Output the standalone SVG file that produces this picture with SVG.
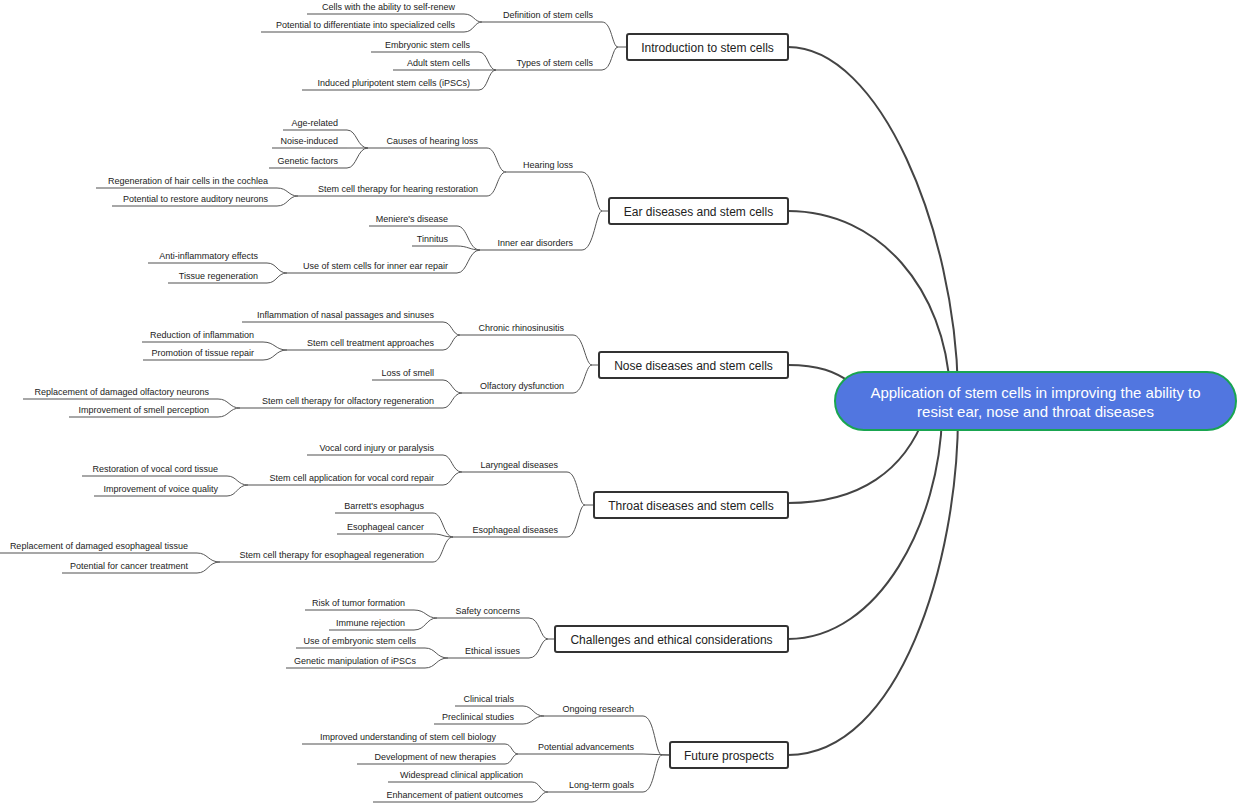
<svg xmlns="http://www.w3.org/2000/svg" width="1240" height="804" viewBox="0 0 1240 804">
<style>
text{font-family:"Liberation Sans",Arial,sans-serif;fill:#222}
.t{font-size:9px;text-anchor:end}
.u{stroke:#8a8a8a;stroke-width:1.5}
.c path{fill:none;stroke:#555;stroke-width:1}
.m path{fill:none;stroke:#444;stroke-width:2}
.b rect{fill:#fff;stroke:#333;stroke-width:2}
.b text{font-size:12px;text-anchor:middle}
</style>
<rect width="1240" height="804" fill="#fff"/>
<g class="m">
<path d="M788,47 C880,47 955,230 958,390"/>
<path d="M788,211 C880,211 945,290 950,390"/>
<path d="M788,365 C820,365 835,372 850,382"/>
<path d="M788,503 C860,503 905,470 925,415"/>
<path d="M788,639 C880,639 940,520 942,415"/>
<path d="M788,755 C900,755 958,560 958,415"/>
</g>
<g class="c">
<path d="M602,22 C612,22 612,47 618,47 L627,47"/><path d="M602,70 C612,70 612,47 618,47"/>
<path d="M464,14 C474,14 474,22 482,22"/><path d="M464,32 C474,32 474,22 482,22"/>
<path d="M479,52 C488,52 488,70 496,70"/><path d="M479,70 L496,70"/><path d="M479,90 C488,90 488,70 496,70"/>
<path d="M582,172 C594,172 596,211 602,211 L609,211"/><path d="M582,250 C594,250 596,211 602,211"/>
<path d="M487,148 C497,148 497,172 506,172"/><path d="M487,196 C497,196 497,172 506,172"/>
<path d="M347,130 C357,130 357,148 368,148"/><path d="M347,148 L368,148"/><path d="M347,168 C357,168 357,148 368,148"/>
<path d="M277,188 C288,188 288,196 298,196"/><path d="M277,206 C288,206 288,196 298,196"/>
<path d="M457,226 C468,226 468,250 480,250"/><path d="M457,246 C468,246 470,250 480,250"/><path d="M457,273 C468,273 468,250 480,250"/>
<path d="M267,263 C277,263 277,273 287,273"/><path d="M267,283 C277,283 277,273 287,273"/>
<path d="M573,335 C584,335 585,365 592,365 L599,365"/><path d="M573,393 C584,393 585,365 592,365"/>
<path d="M443,322 C452,322 452,335 460,335"/><path d="M443,350 C452,350 452,335 460,335"/>
<path d="M263,342 C275,342 275,350 287,350"/><path d="M263,360 C275,360 275,350 287,350"/>
<path d="M443,380 C452,380 452,393 462,393"/><path d="M443,408 C452,408 452,393 462,393"/>
<path d="M218,399 C229,399 229,408 240,408"/><path d="M218,417 C229,417 229,408 240,408"/>
<path d="M567,472 C578,472 578,505 585,505 L594,505"/><path d="M567,537 C578,537 578,505 585,505"/>
<path d="M443,455 C452,455 452,472 462,472"/><path d="M443,485 C452,485 452,472 462,472"/>
<path d="M227,476 C237,476 237,485 248,485"/><path d="M227,496 C237,496 237,485 248,485"/>
<path d="M433,513 C443,513 443,537 453,537"/><path d="M433,534 C443,534 443,537 453,537"/><path d="M433,562 C443,562 443,537 453,537"/>
<path d="M197,553 C208,553 208,562 220,562"/><path d="M197,573 C208,573 208,562 220,562"/>
<path d="M529,618 C540,618 540,639 548,639 L555,639"/><path d="M529,658 C540,658 540,639 548,639"/>
<path d="M414,610 C426,610 426,618 437,618"/><path d="M414,630 C426,630 426,618 437,618"/>
<path d="M425,648 C436,648 436,658 448,658"/><path d="M425,668 C436,668 436,658 448,658"/>
<path d="M643,716 C655,716 655,755 662,755 L670,755"/><path d="M643,754 L670,755"/><path d="M643,792 C655,792 655,755 662,755"/>
<path d="M523,706 C533,706 533,716 544,716"/><path d="M523,724 C533,724 533,716 544,716"/>
<path d="M505,744 C512,744 512,754 518,754"/><path d="M505,764 C512,764 512,754 518,754"/>
<path d="M532,782 C540,782 540,792 548,792"/><path d="M532,802 C540,802 540,792 548,792"/>
</g>
<g id="n-def"><line class="u" x1="482" y1="22" x2="602" y2="22"/><text class="t" x="593" y="18">Definition of stem cells</text></g>
<g id="n-self"><line class="u" x1="307" y1="14" x2="464" y2="14"/><text class="t" x="455" y="10">Cells with the ability to self-renew</text></g>
<g id="n-diff"><line class="u" x1="261" y1="32" x2="464" y2="32"/><text class="t" x="455" y="28">Potential to differentiate into specialized cells</text></g>
<g id="n-types"><line class="u" x1="496" y1="70" x2="602" y2="70"/><text class="t" x="593" y="66">Types of stem cells</text></g>
<g id="n-emb"><line class="u" x1="371" y1="52" x2="479" y2="52"/><text class="t" x="470" y="48">Embryonic stem cells</text></g>
<g id="n-adult"><line class="u" x1="393" y1="70" x2="479" y2="70"/><text class="t" x="470" y="66">Adult stem cells</text></g>
<g id="n-ipsc"><line class="u" x1="302" y1="90" x2="479" y2="90"/><text class="t" x="470" y="86">Induced pluripotent stem cells (iPSCs)</text></g>

<g id="n-hear"><line class="u" x1="506" y1="172" x2="582" y2="172"/><text class="t" x="573" y="168">Hearing loss</text></g>
<g id="n-causes"><line class="u" x1="368" y1="148" x2="487" y2="148"/><text class="t" x="478" y="144">Causes of hearing loss</text></g>
<g id="n-age"><line class="u" x1="283" y1="130" x2="347" y2="130"/><text class="t" x="338" y="126">Age-related</text></g>
<g id="n-noise"><line class="u" x1="272" y1="148" x2="347" y2="148"/><text class="t" x="338" y="144">Noise-induced</text></g>
<g id="n-gen"><line class="u" x1="269" y1="168" x2="347" y2="168"/><text class="t" x="338" y="164">Genetic factors</text></g>
<g id="n-hres"><line class="u" x1="298" y1="196" x2="487" y2="196"/><text class="t" x="478" y="192">Stem cell therapy for hearing restoration</text></g>
<g id="n-hair"><line class="u" x1="96" y1="188" x2="277" y2="188"/><text class="t" x="268" y="184">Regeneration of hair cells in the cochlea</text></g>
<g id="n-aud"><line class="u" x1="112" y1="206" x2="277" y2="206"/><text class="t" x="268" y="202">Potential to restore auditory neurons</text></g>
<g id="n-inner"><line class="u" x1="480" y1="250" x2="582" y2="250"/><text class="t" x="573" y="246">Inner ear disorders</text></g>
<g id="n-men"><line class="u" x1="369" y1="226" x2="457" y2="226"/><text class="t" x="448" y="222">Meniere's disease</text></g>
<g id="n-tin"><line class="u" x1="412" y1="246" x2="457" y2="246"/><text class="t" x="448" y="242">Tinnitus</text></g>
<g id="n-inrep"><line class="u" x1="287" y1="273" x2="457" y2="273"/><text class="t" x="448" y="269">Use of stem cells for inner ear repair</text></g>
<g id="n-anti"><line class="u" x1="148" y1="263" x2="267" y2="263"/><text class="t" x="258" y="259">Anti-inflammatory effects</text></g>
<g id="n-tissue"><line class="u" x1="168" y1="283" x2="267" y2="283"/><text class="t" x="258" y="279">Tissue regeneration</text></g>

<g id="n-crs"><line class="u" x1="460" y1="335" x2="573" y2="335"/><text class="t" x="564" y="331">Chronic rhinosinusitis</text></g>
<g id="n-infl"><line class="u" x1="242" y1="322" x2="443" y2="322"/><text class="t" x="434" y="318">Inflammation of nasal passages and sinuses</text></g>
<g id="n-sta"><line class="u" x1="287" y1="350" x2="443" y2="350"/><text class="t" x="434" y="346">Stem cell treatment approaches</text></g>
<g id="n-red"><line class="u" x1="142" y1="342" x2="263" y2="342"/><text class="t" x="254" y="338">Reduction of inflammation</text></g>
<g id="n-prom"><line class="u" x1="143" y1="360" x2="263" y2="360"/><text class="t" x="254" y="356">Promotion of tissue repair</text></g>
<g id="n-olf"><line class="u" x1="462" y1="393" x2="573" y2="393"/><text class="t" x="564" y="389">Olfactory dysfunction</text></g>
<g id="n-loss"><line class="u" x1="372" y1="380" x2="443" y2="380"/><text class="t" x="434" y="376">Loss of smell</text></g>
<g id="n-olfreg"><line class="u" x1="240" y1="408" x2="443" y2="408"/><text class="t" x="434" y="404">Stem cell therapy for olfactory regeneration</text></g>
<g id="n-repl"><line class="u" x1="23" y1="399" x2="218" y2="399"/><text class="t" x="209" y="395">Replacement of damaged olfactory neurons</text></g>
<g id="n-smell"><line class="u" x1="69" y1="417" x2="218" y2="417"/><text class="t" x="209" y="413">Improvement of smell perception</text></g>

<g id="n-lar"><line class="u" x1="462" y1="472" x2="567" y2="472"/><text class="t" x="558" y="468">Laryngeal diseases</text></g>
<g id="n-vci"><line class="u" x1="307" y1="455" x2="443" y2="455"/><text class="t" x="434" y="451">Vocal cord injury or paralysis</text></g>
<g id="n-vcr"><line class="u" x1="248" y1="485" x2="443" y2="485"/><text class="t" x="434" y="481">Stem cell application for vocal cord repair</text></g>
<g id="n-rest"><line class="u" x1="82" y1="476" x2="227" y2="476"/><text class="t" x="218" y="472">Restoration of vocal cord tissue</text></g>
<g id="n-voice"><line class="u" x1="94" y1="496" x2="227" y2="496"/><text class="t" x="218" y="492">Improvement of voice quality</text></g>
<g id="n-eso"><line class="u" x1="453" y1="537" x2="567" y2="537"/><text class="t" x="558" y="533">Esophageal diseases</text></g>
<g id="n-bar"><line class="u" x1="335" y1="513" x2="433" y2="513"/><text class="t" x="424" y="509">Barrett's esophagus</text></g>
<g id="n-ecan"><line class="u" x1="337" y1="534" x2="433" y2="534"/><text class="t" x="424" y="530">Esophageal cancer</text></g>
<g id="n-ereg"><line class="u" x1="220" y1="562" x2="433" y2="562"/><text class="t" x="424" y="558">Stem cell therapy for esophageal regeneration</text></g>
<g id="n-erepl"><line class="u" x1="0" y1="553" x2="197" y2="553"/><text class="t" x="188" y="549">Replacement of damaged esophageal tissue</text></g>
<g id="n-cancer"><line class="u" x1="62" y1="573" x2="197" y2="573"/><text class="t" x="188" y="569">Potential for cancer treatment</text></g>

<g id="n-safe"><line class="u" x1="437" y1="618" x2="529" y2="618"/><text class="t" x="520" y="614">Safety concerns</text></g>
<g id="n-tumor"><line class="u" x1="305" y1="610" x2="414" y2="610"/><text class="t" x="405" y="606">Risk of tumor formation</text></g>
<g id="n-imm"><line class="u" x1="329" y1="630" x2="414" y2="630"/><text class="t" x="405" y="626">Immune rejection</text></g>
<g id="n-eth"><line class="u" x1="448" y1="658" x2="529" y2="658"/><text class="t" x="520" y="654">Ethical issues</text></g>
<g id="n-useemb"><line class="u" x1="296" y1="648" x2="425" y2="648"/><text class="t" x="416" y="644">Use of embryonic stem cells</text></g>
<g id="n-genman"><line class="u" x1="286" y1="668" x2="425" y2="668"/><text class="t" x="416" y="664">Genetic manipulation of iPSCs</text></g>

<g id="n-ongo"><line class="u" x1="544" y1="716" x2="643" y2="716"/><text class="t" x="634" y="712">Ongoing research</text></g>
<g id="n-clin"><line class="u" x1="455" y1="706" x2="523" y2="706"/><text class="t" x="514" y="702">Clinical trials</text></g>
<g id="n-precl"><line class="u" x1="434" y1="724" x2="523" y2="724"/><text class="t" x="514" y="720">Preclinical studies</text></g>
<g id="n-padv"><line class="u" x1="518" y1="754" x2="643" y2="754"/><text class="t" x="634" y="750">Potential advancements</text></g>
<g id="n-impr"><line class="u" x1="302" y1="744" x2="505" y2="744"/><text class="t" x="496" y="740">Improved understanding of stem cell biology</text></g>
<g id="n-dev"><line class="u" x1="357" y1="764" x2="505" y2="764"/><text class="t" x="496" y="760">Development of new therapies</text></g>
<g id="n-long"><line class="u" x1="548" y1="792" x2="643" y2="792"/><text class="t" x="634" y="788">Long-term goals</text></g>
<g id="n-wide"><line class="u" x1="388" y1="782" x2="532" y2="782"/><text class="t" x="523" y="778">Widespread clinical application</text></g>
<g id="n-enh"><line class="u" x1="373" y1="802" x2="532" y2="802"/><text class="t" x="523" y="798">Enhancement of patient outcomes</text></g>

<g id="b-intro" class="b"><rect x="627" y="34" width="161" height="26" rx="2"/><text x="707.5" y="51.5">Introduction to stem cells</text></g>
<g id="b-ear" class="b"><rect x="609" y="198" width="179" height="26" rx="2"/><text x="698.5" y="215.5">Ear diseases and stem cells</text></g>
<g id="b-nose" class="b"><rect x="599" y="352" width="189" height="26" rx="2"/><text x="693.5" y="369.5">Nose diseases and stem cells</text></g>
<g id="b-throat" class="b"><rect x="594" y="492" width="194" height="26" rx="2"/><text x="691" y="509.5">Throat diseases and stem cells</text></g>
<g id="b-chal" class="b"><rect x="555" y="626" width="233" height="26" rx="2"/><text x="671.5" y="643.5">Challenges and ethical considerations</text></g>
<g id="b-fut" class="b"><rect x="670" y="742" width="118" height="26" rx="2"/><text x="729" y="759.5">Future prospects</text></g>
<g id="root"><rect x="835" y="372" width="401" height="58" rx="29" fill="#5176e0" stroke="#19a550" stroke-width="2"/>
<text x="1035.5" y="398" font-size="15" text-anchor="middle" style="fill:#fff">Application of stem cells in improving the ability to</text>
<text x="1035.5" y="417" font-size="15" text-anchor="middle" style="fill:#fff">resist ear, nose and throat diseases</text></g>
</svg>
